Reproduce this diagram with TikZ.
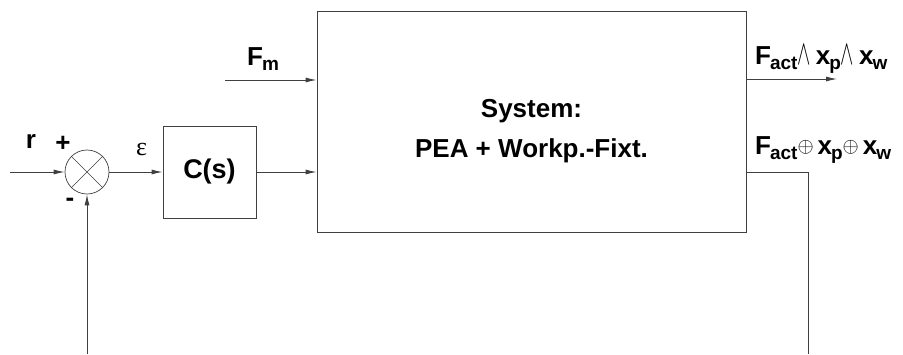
\documentclass[tikz,border=0pt]{standalone}
\usepackage{fontspec}
\usetikzlibrary{arrows.meta}
\setmainfont{Liberation Sans}
\newfontfamily\serfont{Liberation Serif}
\newcommand{\lowsub}[1]{\kern-1pt\raisebox{-5.5pt}{\fontsize{19}{19}\selectfont #1}}
\newcommand{\wdg}{\scalebox{0.8}[1.4]{\fontsize{26}{26}\selectfont$\wedge$}\hspace{5pt}}
\newcommand{\opl}{\raisebox{1.5pt}{\fontsize{22}{22}\selectfont$\oplus$}\hspace{4pt}}
\begin{document}
\begin{tikzpicture}[x=1pt,y=-1pt,
  line/.style={draw=black!75, line width=0.9pt},
  arr/.style={line, -{Latex[length=11pt,width=5pt]}},
  blk/.style={draw=black!75, line width=0.9pt, inner sep=0pt},
  lbl/.style={font=\fontsize{26}{26}\selectfont\bfseries, inner sep=0pt}]
\useasboundingbox (0,0) rectangle (903,354);
\node[blk, minimum width=429pt, minimum height=221pt] (sys) at (531.5,121.5) {};
\node[lbl, anchor=base] (systxt1) at (531.5,117) {System:};
\node[lbl, anchor=base] (systxt2) at (531.5,157) {PEA + Workp.-Fixt.};
\node[blk, minimum width=93pt, minimum height=92pt, font=\fontsize{27}{27}\selectfont\bfseries] (cs) at (209.5,172) {C(s)};
\node[circle, draw=black!75, line width=0.7pt, minimum size=44pt, inner sep=0pt] (sum) at (87,172) {};
\draw[black!75, line width=0.6pt] (sum.north west) -- (sum.south east) (sum.north east) -- (sum.south west);
\coordinate (rin) at (10,172);
\coordinate (fmin) at (225,80);
\coordinate (fb) at (87,354);
\coordinate (o1) at (837,79);
\coordinate (o2a) at (746,172);
\coordinate (o2b) at (808,172);
\coordinate (o2c) at (808,354);
\draw[arr] (rin) -- (sum.west);
\draw[arr] (sum.east) -- (cs.west);
\draw[arr] (cs.east) -- (sys.west |- cs.east);
\draw[arr] (fmin) -- (sys.west |- fmin);
\draw[arr] (fb) -- (sum.south);
\draw[arr] (sys.east |- o1) -- (o1);
\draw[line] (o2a) -- (o2b) -- (o2c);
\node[lbl, anchor=base] (lr) at (31,148) {r};
\node[lbl] (lplus) at (63,144) {+};
\node[lbl] (lminus) at (70,202) {-};
\node[inner sep=0pt, anchor=base, font=\serfont\fontsize{26}{26}\selectfont] (leps) at (141.5,155) {ε};
\node[lbl, anchor=base west] (lfm) at (247,65) {F\lowsub{m}};
\node[lbl, anchor=base west] (lo1) at (755,64) {F\lowsub{act}\wdg x\lowsub{p}\wdg x\lowsub{w}};
\node[lbl, anchor=base west] (lo2) at (755,154) {F\lowsub{act}\opl x\lowsub{p}\opl x\lowsub{w}};
\end{tikzpicture}
\end{document}
